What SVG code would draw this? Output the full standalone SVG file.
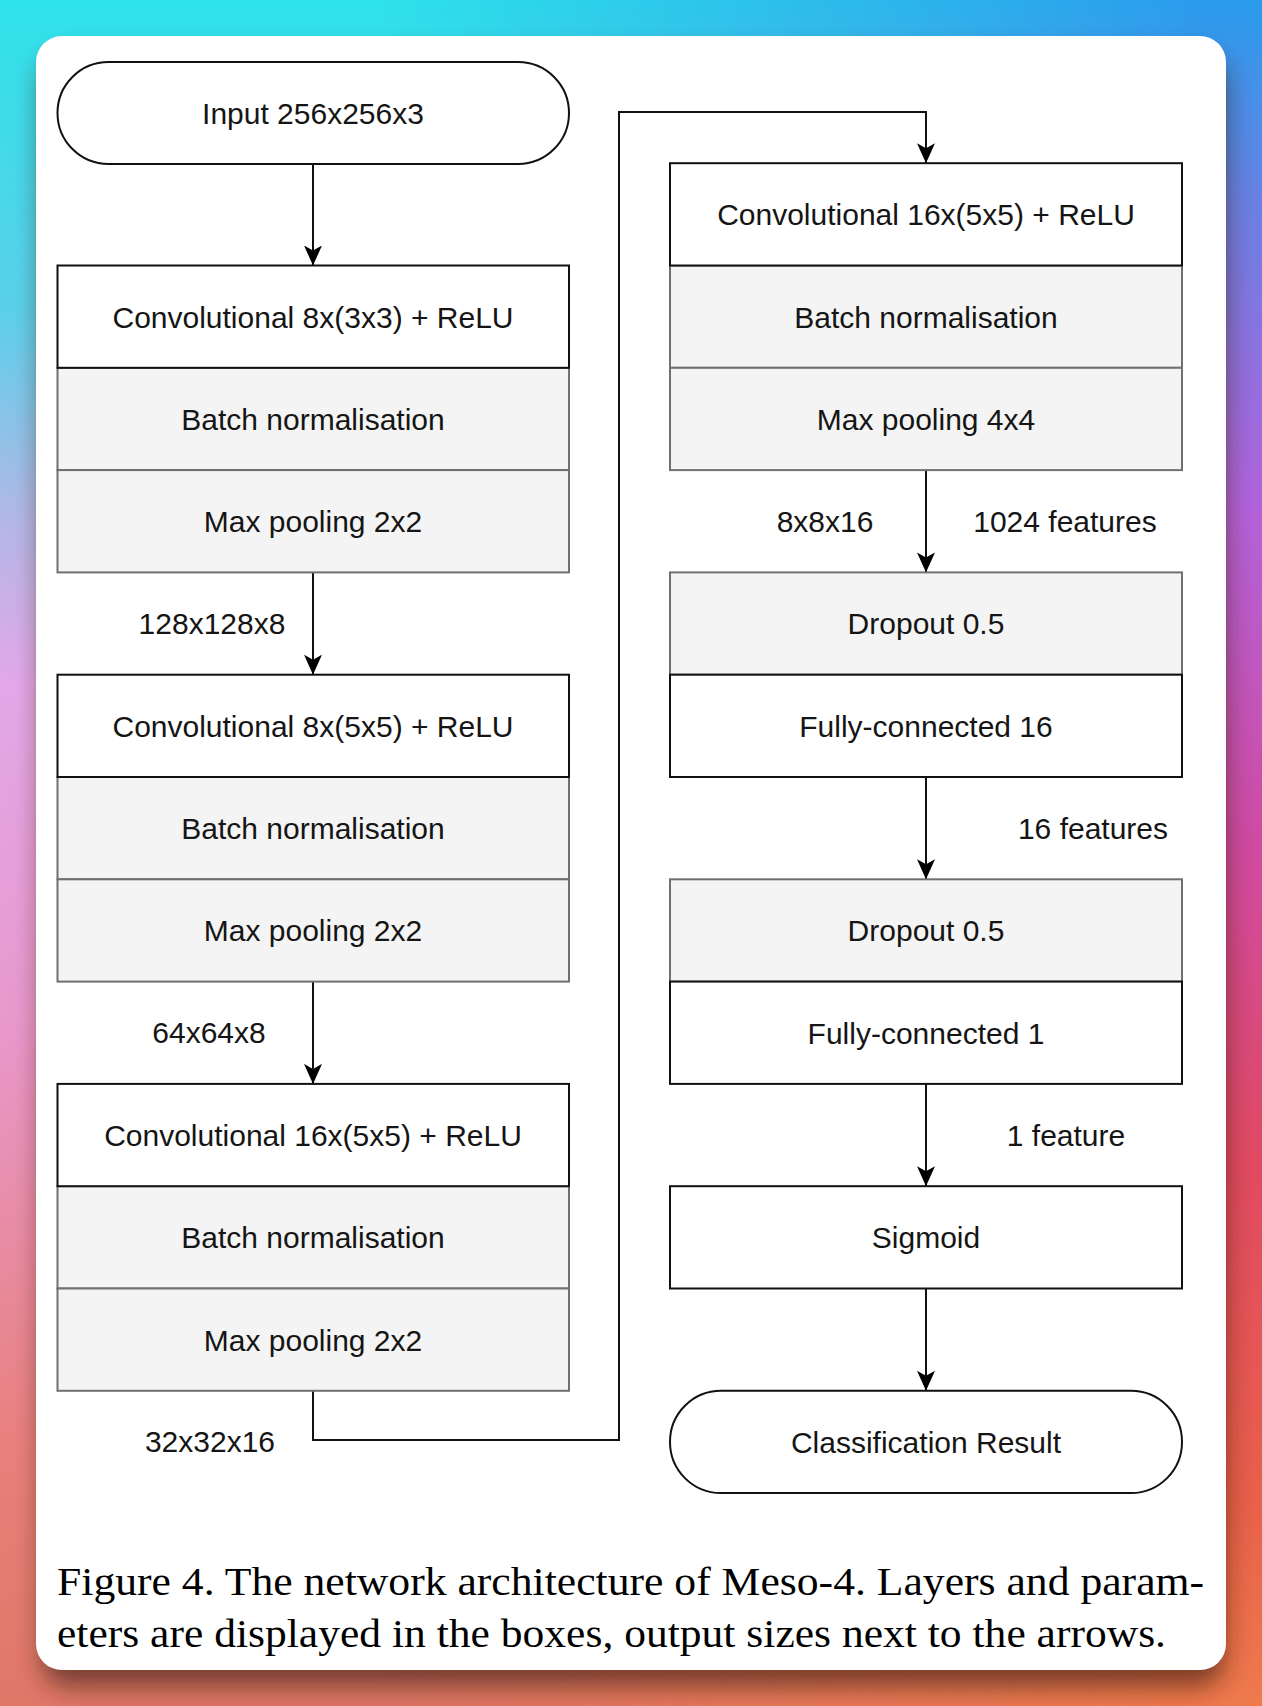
<svg xmlns="http://www.w3.org/2000/svg" width="1262" height="1706" viewBox="0 0 1262 1706">
<defs>
<linearGradient id="gl" x1="0" y1="0" x2="0" y2="1">
<stop offset="0" stop-color="#2ee2ea"/>
<stop offset="0.18" stop-color="#5ad0ea"/>
<stop offset="0.3" stop-color="#b0b8e6"/>
<stop offset="0.4" stop-color="#e2a8e8"/>
<stop offset="0.6" stop-color="#e898cc"/>
<stop offset="0.85" stop-color="#e8807c"/>
<stop offset="1" stop-color="#e07868"/>
</linearGradient>
<linearGradient id="gr" x1="0" y1="0" x2="0" y2="1">
<stop offset="0" stop-color="#2a9cec"/>
<stop offset="0.12" stop-color="#6a80e2"/>
<stop offset="0.3" stop-color="#b262d8"/>
<stop offset="0.5" stop-color="#d04aa0"/>
<stop offset="0.68" stop-color="#e04a62"/>
<stop offset="0.88" stop-color="#e8604a"/>
<stop offset="1" stop-color="#ee7a4c"/>
</linearGradient>
<linearGradient id="gm" x1="0" y1="0" x2="1" y2="0">
<stop offset="0.3" stop-color="#000"/>
<stop offset="0.95" stop-color="#fff"/>
</linearGradient>
<mask id="mr"><rect x="0" y="0" width="1262" height="1706" fill="url(#gm)"/></mask>
<filter id="sh" x="-10%" y="-10%" width="120%" height="120%">
<feGaussianBlur stdDeviation="13"/>
</filter>
<marker id="ah" markerUnits="userSpaceOnUse" markerWidth="20" markerHeight="20" viewBox="0 0 20 20" refX="20" refY="10" orient="auto">
<path d="M0,1 L20,10 L0,19 L5,10 z" fill="#000"/>
</marker>
<style>
.w{fill:#fff;stroke:#111;stroke-width:2}
.g{fill:#f4f4f4;stroke:#707070;stroke-width:2}
.t{font-family:"Liberation Sans",Arial,Helvetica,sans-serif;font-size:30px;fill:#151515;text-anchor:middle}
.c{fill:none;stroke:#111;stroke-width:2}
.cap{font-family:"Liberation Serif","Times New Roman",serif;font-size:39px;fill:#000}
</style>
</defs>
<g id="background">
<rect x="0" y="0" width="1262" height="1706" fill="url(#gl)"/>
<rect x="0" y="0" width="1262" height="1706" fill="url(#gr)" mask="url(#mr)"/>
<rect x="42" y="56" width="1182" height="1630" rx="26" fill="#3a1a10" opacity="0.65" filter="url(#sh)"/>
<rect x="36" y="36" width="1190" height="1634" rx="26" fill="#fff"/>
</g>
<g id="connectors">
<line class="c" x1="313" y1="164" x2="313" y2="265.5" marker-end="url(#ah)"/>
<line class="c" x1="313" y1="572.4" x2="313" y2="674.7" marker-end="url(#ah)"/>
<line class="c" x1="313" y1="981.6" x2="313" y2="1083.9" marker-end="url(#ah)"/>
<path class="c" d="M313,1390.8 V1440 H619 V112 H926 V163.2" marker-end="url(#ah)"/>
<line class="c" x1="926" y1="470.1" x2="926" y2="572.4" marker-end="url(#ah)"/>
<line class="c" x1="926" y1="777" x2="926" y2="879.3" marker-end="url(#ah)"/>
<line class="c" x1="926" y1="1083.9" x2="926" y2="1186.2" marker-end="url(#ah)"/>
<line class="c" x1="926" y1="1288.5" x2="926" y2="1390.8" marker-end="url(#ah)"/>
<text class="t" x="212" y="634">128x128x8</text>
<text class="t" x="209" y="1043">64x64x8</text>
<text class="t" x="210" y="1452">32x32x16</text>
<text class="t" x="825" y="532">8x8x16</text>
<text class="t" x="1065" y="532">1024 features</text>
<text class="t" x="1093" y="839">16 features</text>
<text class="t" x="1066" y="1146">1 feature</text>
</g>
<g id="input">
<rect class="w" x="57.5" y="62" width="511.5" height="102" rx="51"/>
<text class="t" x="313" y="124">Input 256x256x3</text>
</g>
<g id="block1">
<rect class="g" x="57.5" y="367.8" width="511.5" height="102.3"/>
<rect class="g" x="57.5" y="470.1" width="511.5" height="102.3"/>
<rect class="w" x="57.5" y="265.5" width="511.5" height="102.3"/>
<text class="t" x="313" y="327.5">Convolutional 8x(3x3) + ReLU</text>
<text class="t" x="313" y="429.8">Batch normalisation</text>
<text class="t" x="313" y="532.1">Max pooling 2x2</text>
</g>
<g id="block2">
<rect class="g" x="57.5" y="777" width="511.5" height="102.3"/>
<rect class="g" x="57.5" y="879.3" width="511.5" height="102.3"/>
<rect class="w" x="57.5" y="674.7" width="511.5" height="102.3"/>
<text class="t" x="313" y="736.7">Convolutional 8x(5x5) + ReLU</text>
<text class="t" x="313" y="839">Batch normalisation</text>
<text class="t" x="313" y="941.3">Max pooling 2x2</text>
</g>
<g id="block3">
<rect class="g" x="57.5" y="1186.2" width="511.5" height="102.3"/>
<rect class="g" x="57.5" y="1288.5" width="511.5" height="102.3"/>
<rect class="w" x="57.5" y="1083.9" width="511.5" height="102.3"/>
<text class="t" x="313" y="1145.9">Convolutional 16x(5x5) + ReLU</text>
<text class="t" x="313" y="1248.2">Batch normalisation</text>
<text class="t" x="313" y="1350.5">Max pooling 2x2</text>
</g>
<g id="block4">
<rect class="g" x="670" y="265.5" width="512" height="102.3"/>
<rect class="g" x="670" y="367.8" width="512" height="102.3"/>
<rect class="w" x="670" y="163.2" width="512" height="102.3"/>
<text class="t" x="926" y="225.2">Convolutional 16x(5x5) + ReLU</text>
<text class="t" x="926" y="327.5">Batch normalisation</text>
<text class="t" x="926" y="429.8">Max pooling 4x4</text>
</g>
<g id="block5">
<rect class="g" x="670" y="572.4" width="512" height="102.3"/>
<rect class="w" x="670" y="674.7" width="512" height="102.3"/>
<text class="t" x="926" y="634.4">Dropout 0.5</text>
<text class="t" x="926" y="736.7">Fully-connected 16</text>
</g>
<g id="block6">
<rect class="g" x="670" y="879.3" width="512" height="102.3"/>
<rect class="w" x="670" y="981.6" width="512" height="102.3"/>
<text class="t" x="926" y="941.3">Dropout 0.5</text>
<text class="t" x="926" y="1043.6">Fully-connected 1</text>
</g>
<g id="sigmoid">
<rect class="w" x="670" y="1186.2" width="512" height="102.3"/>
<text class="t" x="926" y="1248.2">Sigmoid</text>
</g>
<g id="result">
<rect class="w" x="670" y="1390.8" width="512" height="102.3" rx="51"/>
<text class="t" x="926" y="1452.8">Classification Result</text>
</g>
<g id="caption">
<text class="cap" x="57" y="1595" textLength="1147" lengthAdjust="spacingAndGlyphs">Figure 4. The network architecture of Meso-4. Layers and param-</text>
<text class="cap" x="57" y="1647" textLength="1109" lengthAdjust="spacingAndGlyphs">eters are displayed in the boxes, output sizes next to the arrows.</text>
</g>
</svg>
